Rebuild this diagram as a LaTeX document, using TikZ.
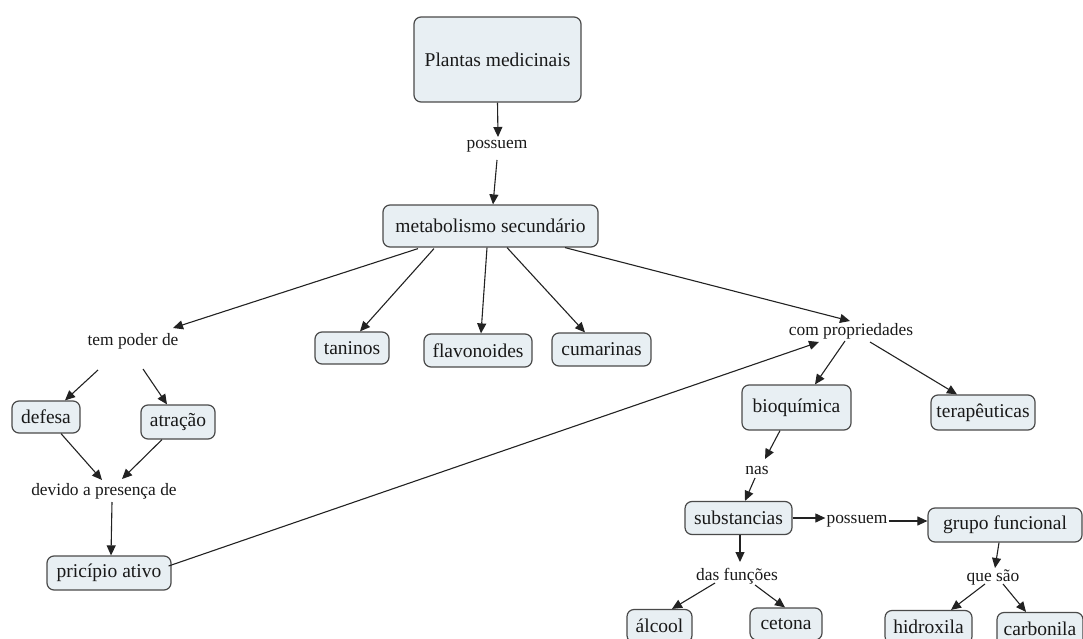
\documentclass[tikz,border=0pt]{standalone}
\usepackage{fontspec}
\setmainfont{Liberation Serif}
\usetikzlibrary{calc,arrows.meta}
\definecolor{boxfill}{HTML}{E8EFF3}
\definecolor{boxline}{HTML}{4A4A4A}
\definecolor{linecol}{HTML}{222222}
\tikzset{
  cbox/.style={draw=boxline, line width=1.2pt, fill=boxfill, rounded corners=7pt,
    inner sep=0pt, align=center, font=\fontsize{19.5}{22}\selectfont, text=black!90},
  lbl/.style={inner sep=1pt, font=\fontsize{17.4}{20}\selectfont, text=black!90},
  arr/.style={draw=linecol, line width=1.1pt, -{Triangle[length=10pt,width=9pt]}}
}
\begin{document}
\begin{tikzpicture}[x=1pt,y=-1pt]
\useasboundingbox (0,0) rectangle (1083,639);
\clip (0,0) rectangle (1083,639);
% nodes
\node[cbox, minimum width=167pt, minimum height=85pt] (plantas) at (497.5,59.5) {Plantas medicinais};
\node[lbl] (pos1) at (497,146) {possuem};
\node[cbox, minimum width=215pt, minimum height=42pt] (meta) at (490.5,226) {metabolismo secundário};
\node[lbl] (tem) at (133,341) {tem poder de};
\node[cbox, minimum width=74pt, minimum height=32pt] (tan) at (352,348) {taninos};
\node[cbox, minimum width=108pt, minimum height=33pt] (fla) at (478,350.5) {flavonoides};
\node[cbox, minimum width=99pt, minimum height=33pt] (cum) at (601.5,349.5) {cumarinas};
\node[lbl] (com) at (851,331) {com propriedades};
\node[cbox, minimum width=68pt, minimum height=32pt] (def) at (46,417) {defesa};
\node[cbox, minimum width=74pt, minimum height=34pt] (atr) at (178,422) {atração};
\node[lbl] (dev) at (104,491) {devido a presença de};
\node[cbox, minimum width=124pt, minimum height=34pt] (pri) at (109,573) {pricípio ativo};
\node[cbox, minimum width=109pt, minimum height=45pt] (bio) at (796.5,407.5) {bioquímica};
\node[cbox, minimum width=104pt, minimum height=35pt] (ter) at (983,412.5) {terapêuticas};
\node[lbl] (nas) at (757,470) {nas};
\node[cbox, minimum width=107pt, minimum height=33pt] (sub) at (738.5,518) {substancias};
\node[lbl] (pos2) at (857,521) {possuem};
\node[cbox, minimum width=154pt, minimum height=34pt] (gru) at (1005,525) {grupo funcional};
\node[lbl] (fun) at (737,576) {das funções};
\node[lbl] (que) at (993,577) {que são};
\node[cbox, minimum width=65pt, minimum height=33pt] (alc) at (659.5,626) {álcool};
\node[cbox, minimum width=72pt, minimum height=32pt] (cet) at (786,624) {cetona};
\node[cbox, minimum width=87pt, minimum height=33pt] (hid) at (928.5,627) {hidroxila};
\node[cbox, minimum width=86pt, minimum height=33pt] (car) at (1040,629) {carbonila};
% connectors
\draw[arr] (plantas.south) -- ($(pos1)+(1,-9)$);
\draw[arr] ($(pos1)+(0,14)$) -- ($(meta.north)+(2.5,0)$);
\draw[arr] ($(meta.south)+(-72.5,1)$) -- ($(tem)+(40,-13)$);
\draw[arr] ($(meta.south)+(-56.5,1)$) -- ($(tan.north)+(8,0)$);
\draw[arr] ($(meta.south)+(-3.5,0)$) -- ($(fla.north)+(3,0)$);
\draw[arr] ($(meta.south)+(16.5,0)$) -- ($(cum.north)+(-16.5,0)$);
\draw[arr] ($(meta.south)+(74.5,0)$) -- ($(com)+(-1,-10)$);
\draw[arr] ($(pri.east)+(-3,-7)$) -- ($(com)+(-32,11)$);
\draw[arr] ($(com)+(-6,10)$) -- ($(bio.north)+(18.5,0)$);
\draw[arr] ($(com)+(19,11)$) -- ($(ter.north)+(-26,0)$);
\draw[arr] ($(tem)+(-35,29)$) -- ($(def.north)+(19,0)$);
\draw[arr] ($(tem)+(10,28)$) -- ($(atr.north)+(-11,0)$);
\draw[arr] ($(def.south)+(15,0)$) -- ($(dev)+(-2,-11)$);
\draw[arr] ($(atr.south)+(-16,0)$) -- ($(dev)+(18,-12)$);
\draw[arr] ($(dev)+(8,11)$) -- ($(pri.north)+(2,0)$);
\draw[arr] ($(bio.south)+(-16.5,0)$) -- ($(nas)+(8,-11)$);
\draw[arr] ($(nas)+(-2,8)$) -- ($(sub.north)+(6.5,0)$);
\draw[arr] (sub.east) -- (sub.east -| pos2.west);
\draw[arr] (pos2.east) -- (pos2.east -| gru.west);
\draw[arr] ($(sub.south)+(1.5,0)$) -- ($(fun)+(3,-14)$);
\draw[arr] ($(fun)+(-22,7)$) -- ($(alc.north)+(12.5,0)$);
\draw[arr] ($(fun)+(18,9)$) -- ($(cet.north)+(-1,0)$);
\draw[arr] ($(gru.south)+(-6,0)$) -- ($(que)+(2,-9)$);
\draw[arr] ($(que)+(-8,7)$) -- ($(hid.north)+(22.5,0)$);
\draw[arr] ($(que)+(10,7)$) -- ($(car.north)+(-14,0)$);
\end{tikzpicture}
\end{document}
